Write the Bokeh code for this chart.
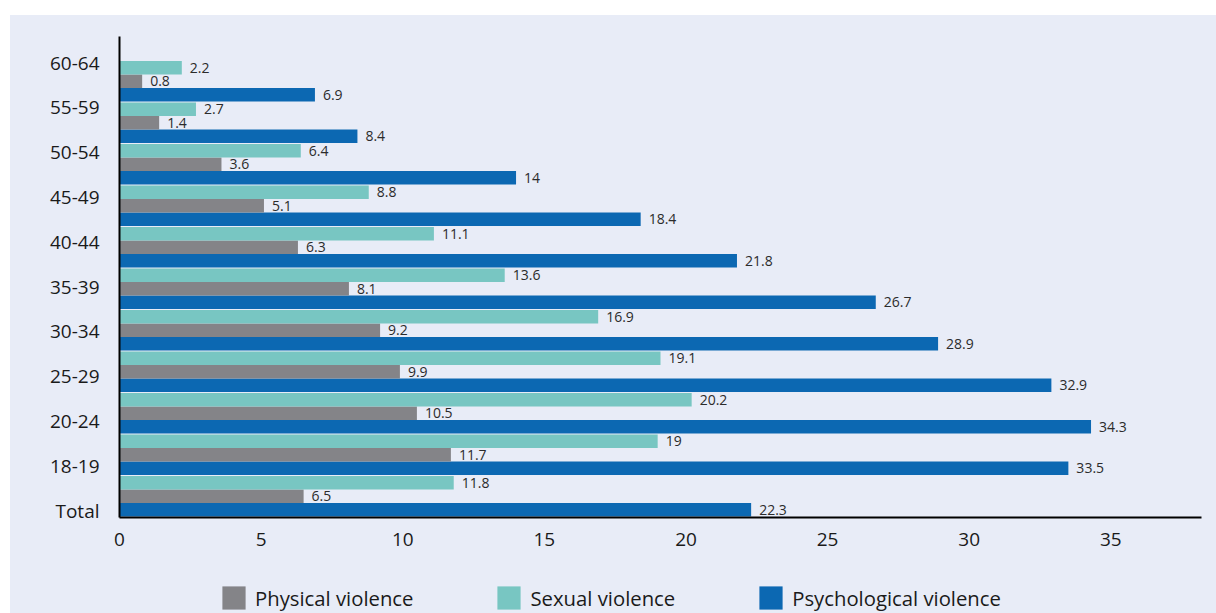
import numpy as np
from bokeh.plotting import figure
from bokeh.layouts import column
from bokeh.models import (ColumnDataSource, Range1d, LinearAxis, FixedTicker,
                          Legend, LegendItem)
from bokeh.core.properties import value
from bokeh.embed import file_html
from bokeh.resources import INLINE

# Share of women (%) by age group and type of violence
age_groups = ["Total", "18-19", "20-24", "25-29", "30-34", "35-39",
              "40-44", "45-49", "50-54", "55-59", "60-64"]
psychological = [22.3, 33.5, 34.3, 32.9, 28.9, 26.7, 21.8, 18.4, 14, 8.4, 6.9]
physical = [6.5, 11.7, 10.5, 9.9, 9.2, 8.1, 6.3, 5.1, 3.6, 1.4, 0.8]
sexual = [11.8, 19, 20.2, 19.1, 16.9, 13.6, 11.1, 8.8, 6.4, 2.7, 2.2]
x_ticks = [0, 5, 10, 15, 20, 25, 30, 35]

BG = "#E8ECF7"
FONT = "Open Sans"
colors = {"Psychological violence": "#0C68B2",
          "Physical violence": "#848488",
          "Sexual violence": "#78C6C2"}

# bars stacked bottom-to-top inside each age group
series = [("Psychological violence", psychological),
          ("Physical violence", physical),
          ("Sexual violence", sexual)]

# vertical layout in bar units (one unit = one bar)
frame_h = 481.0
bar_px = 13.5
gap = 1.0 / bar_px                 # thin separator between age groups
y_start = -gap
y_end = y_start + frame_h / bar_px

# category labels use their own evenly spaced scale
label_px = 44.8
cat_start = -7.0 / label_px
cat_end = cat_start + frame_h / label_px

W = 1206
p = figure(width=W, height=552,
           x_range=Range1d(0, 38.2), y_range=Range1d(y_start, y_end),
           output_backend="svg", toolbar_location=None,
           y_axis_location=None,
           min_border_left=109, min_border_right=15,
           min_border_top=21, min_border_bottom=50,
           background_fill_color=BG, border_fill_color=BG,
           outline_line_color=None)
p.grid.grid_line_color = None

p.extra_y_ranges = {"cat": Range1d(cat_start, cat_end)}
yaxis = LinearAxis(y_range_name="cat",
                   ticker=FixedTicker(ticks=list(range(len(age_groups)))),
                   major_label_overrides={i: g for i, g in enumerate(age_groups)})
p.add_layout(yaxis, "left")

for ax in (yaxis, p.xaxis[0]):
    ax.axis_line_color = "black"
    ax.axis_line_width = 2
    ax.major_tick_line_color = None
    ax.minor_tick_line_color = None
    ax.major_tick_out = 0
    ax.major_tick_in = 0
    ax.major_label_text_font = FONT
    ax.major_label_text_font_size = "19px"
    ax.major_label_text_color = "#1a1a1a"
yaxis.major_label_standoff = 20
p.xaxis[0].ticker = FixedTicker(ticks=x_ticks)
p.xaxis[0].major_label_standoff = 15

group_idx = np.arange(len(age_groups))
for s, (name, vals) in enumerate(series):
    y = group_idx * (3 + gap) + s + 0.5
    src = ColumnDataSource(dict(y=y, v=vals, lbl=[f"{v:g}" for v in vals]))
    p.hbar(y="y", left=0, right="v", height=1.0, source=src,
           fill_color=colors[name], line_color=None)
    p.text(x="v", y="y", text="lbl", source=src, x_offset=8,
           text_baseline="middle", text_align="left",
           text_font=value(FONT), text_font_size="14px", text_color="#2b2b2b")

# legend strip under the chart; its keys are zero-length bars
lf = figure(width=W, height=46, x_range=Range1d(0, 1), y_range=Range1d(0, 1),
            output_backend="svg", toolbar_location=None,
            x_axis_location=None, y_axis_location=None,
            min_border=0, background_fill_color=BG, border_fill_color=BG,
            outline_line_color=None)
lf.grid.grid_line_color = None
legend_order = ["Physical violence", "Sexual violence", "Psychological violence"]
keys = {n: lf.hbar(y=[0.5], left=[0], right=[0], height=1.0,
                   fill_color=colors[n], line_color=None) for n in legend_order}
legend = Legend(items=[LegendItem(label=n, renderers=[keys[n]]) for n in legend_order],
                location=(100, 1), orientation="horizontal",
                glyph_width=29, glyph_height=29, label_standoff=7, spacing=81,
                padding=0, margin=0, border_line_color=None,
                background_fill_alpha=0,
                label_text_font=FONT, label_text_font_size="20.3px",
                label_text_color="#1a1a1a")
lf.add_layout(legend, "center")

layout = column(p, lf, spacing=0, margin=(15, 0, 0, 10),
                styles={"background-color": BG})
open("out.html", "w").write(file_html(layout, INLINE))
